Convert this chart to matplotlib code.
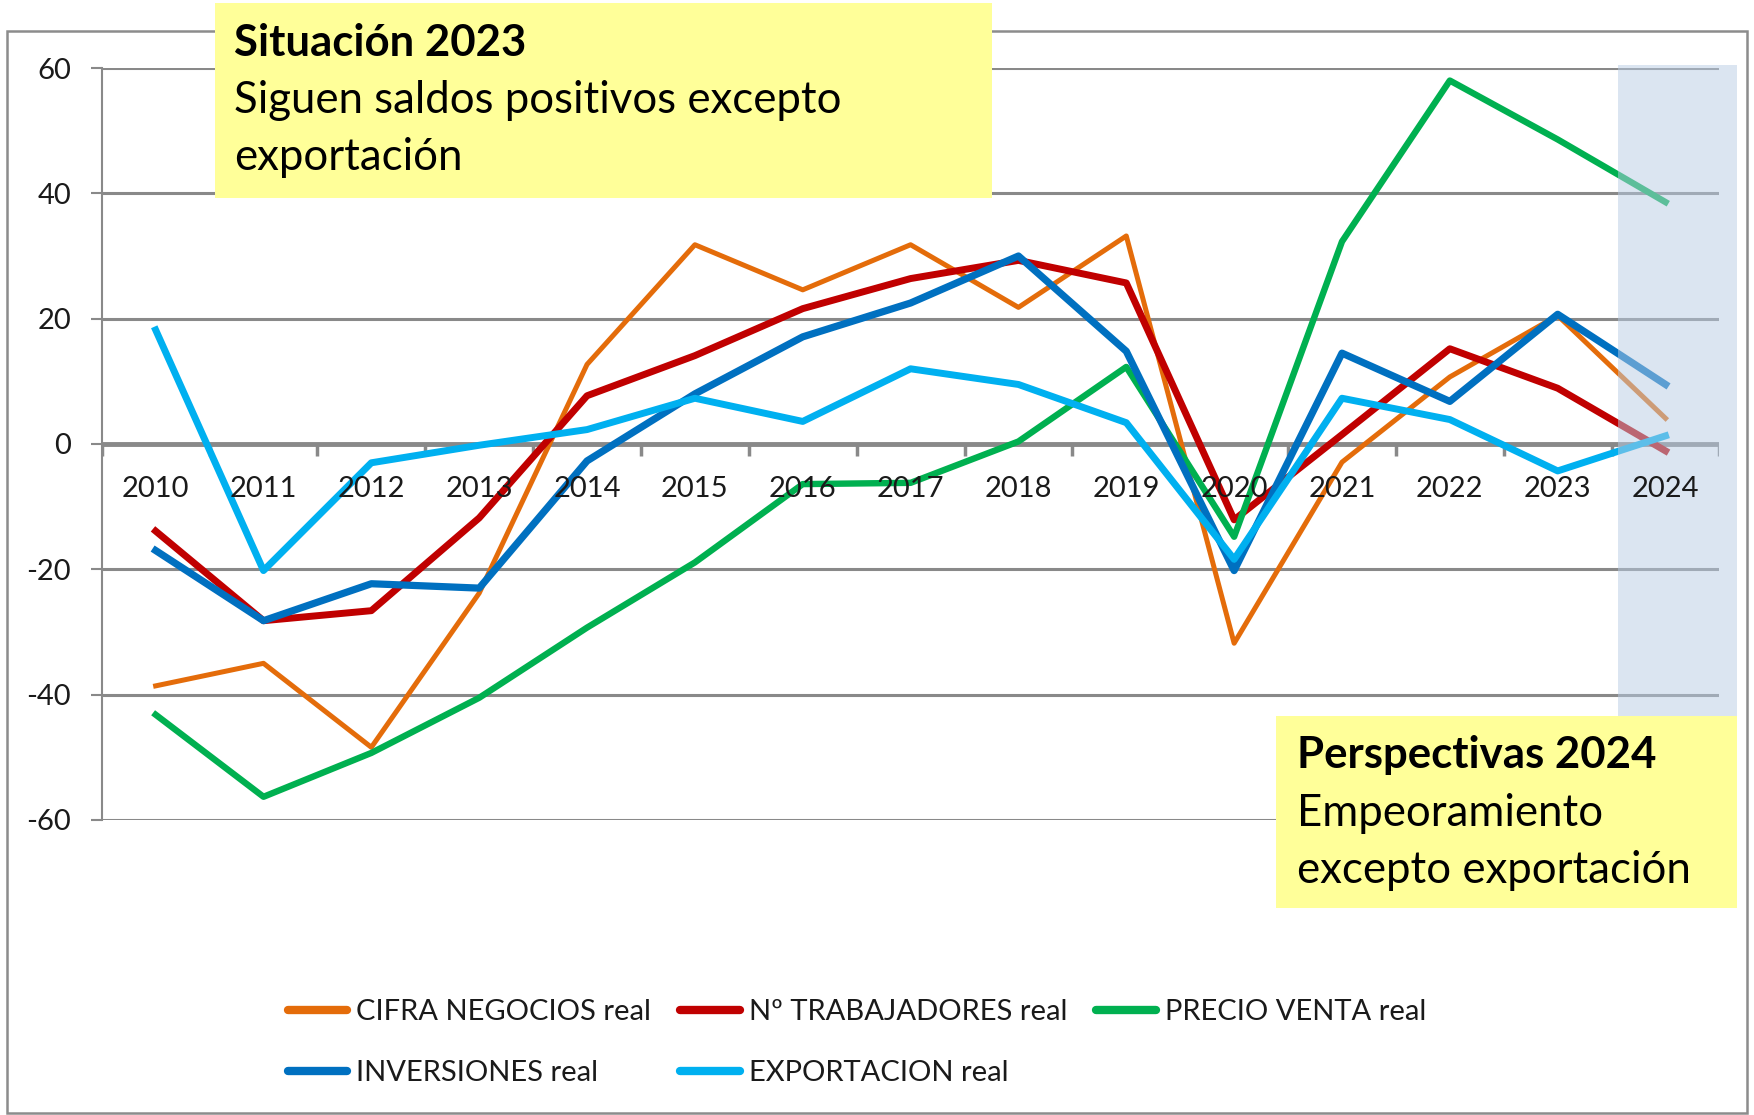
import numpy as np
import matplotlib
matplotlib.use("Agg")
import matplotlib.pyplot as plt
from matplotlib.patches import Rectangle

plt.rcParams['font.family'] = ['Lato', 'DejaVu Sans']

# datos (saldos, %)
years = ['2010', '2011', '2012', '2013', '2014', '2015', '2016', '2017',
         '2018', '2019', '2020', '2021', '2022', '2023', '2024']

cifra = [-38.6, -35.0, -48.4, -23.8, 12.7, 31.8, 24.6, 31.8, 21.8, 33.2,
         -31.8, -2.9, 10.7, 20.5, 4.1]
trabajadores = [-13.9, -28.2, -26.6, -11.8, 7.7, 14.1, 21.6, 26.4, 29.3, 25.7,
                -12.1, 1.5, 15.2, 8.9, -1.1]
precio = [-43.2, -56.3, -49.3, -40.5, -29.3, -18.9, -6.4, -6.2, 0.4, 12.3,
          -14.8, 32.3, 58.0, 48.6, 38.6]
inversiones = [-17.0, -28.2, -22.3, -23.0, -2.7, 8.0, 17.1, 22.5, 30.0, 14.8,
               -20.2, 14.5, 6.8, 20.7, 9.5]
exportacion = [18.2, -20.2, -3.0, -0.2, 2.3, 7.3, 3.6, 12.0, 9.5, 3.4,
               -18.4, 7.3, 3.9, -4.3, 1.3]

labels = ['CIFRA NEGOCIOS real', 'Nº TRABAJADORES real', 'PRECIO VENTA real',
          'INVERSIONES real', 'EXPORTACION real']
colors = ['#E46C0A', '#C00000', '#00B050', '#0070C0', '#00B0F0']

x = np.arange(len(years))
grid_c = '#898989'
txt_c = '#1a1a1a'

fig = plt.figure(figsize=(17.54, 11.15), dpi=100)
ax = fig.add_axes([0.058, 0.2646, 0.9223, 0.6744])

ax.set_ylim(-60, 60)
ax.set_xlim(-0.5, len(years) - 0.5)
ax.set_yticks([-60, -40, -20, 0, 20, 40, 60])
ax.set_yticklabels(['-60', '-40', '-20', '0', '20', '40', '60'])
ax.yaxis.grid(True, color=grid_c, lw=2.2, zorder=0)
ax.set_axisbelow(True)
ax.axhline(0, color=grid_c, lw=3.5, zorder=1)

for s in ['top', 'right', 'bottom']:
    ax.spines[s].set_visible(False)
ax.spines['left'].set_color(grid_c)
ax.spines['left'].set_linewidth(1.5)

ax.set_xticks([])
ax.tick_params(axis='y', length=8, width=1.5, color=grid_c, pad=14,
               labelsize=21, labelcolor=txt_c)

# marcas del eje de categorías y etiquetas junto a la línea de cero
for b in np.arange(-0.5, len(years), 1.0):
    ax.plot([b, b], [0, -1.9], color=grid_c, lw=2.5, zorder=1,
            solid_capstyle='butt')
for i, yr in enumerate(years):
    ax.text(i, -7.2, yr, ha='center', va='center', fontsize=21, color=txt_c,
            zorder=6)

widths = [3.6, 5.0, 4.6, 5.2, 5.0]
series = [cifra, trabajadores, precio, inversiones, exportacion]
handles = []
for vals, lab, c, w in zip(series, labels, colors, widths):
    h, = ax.plot(x, vals, color=c, lw=w, label=lab, zorder=3)
    handles.append(h)

# zona sombreada de 2024
ax.add_patch(Rectangle((0.9222, 0.30), 0.0681, 0.6418, transform=fig.transFigure,
                       facecolor='#B8CCE4', alpha=0.5, edgecolor='none',
                       zorder=4, clip_on=False))

# borde exterior
fig.patches.append(Rectangle((0.004, 0.002), 0.992, 0.970, transform=fig.transFigure,
                             facecolor='none', edgecolor='#8C8C8C', lw=1.8, zorder=6))

# cuadros de texto
fig.patches.append(Rectangle((0.1226, 0.8224), 0.443, 0.1749, transform=fig.transFigure,
                             facecolor='#FFFF99', edgecolor='none', zorder=7))
fig.text(0.1333, 0.961, 'Situación 2023', fontsize=31.5, fontweight='bold',
         va='center', zorder=8)
fig.text(0.1333, 0.9097, 'Siguen saldos positivos excepto', fontsize=31.5,
         va='center', zorder=8)
fig.text(0.1333, 0.8586, 'exportación', fontsize=31.5, va='center', zorder=8)

fig.patches.append(Rectangle((0.7275, 0.1857), 0.2628, 0.1721, transform=fig.transFigure,
                             facecolor='#FFFF99', edgecolor='none', zorder=7))
fig.text(0.7392, 0.3229, 'Perspectivas 2024', fontsize=31.5, fontweight='bold',
         va='center', zorder=8)
fig.text(0.7392, 0.2707, 'Empeoramiento', fontsize=31.5, va='center', zorder=8)
fig.text(0.7392, 0.2195, 'excepto exportación', fontsize=31.5, va='center', zorder=8)

order = [0, 3, 1, 4, 2]
leg = fig.legend([handles[i] for i in order], [labels[i] for i in order],
                 ncol=3, loc='upper left', bbox_to_anchor=(0.149, 0.1275),
                 frameon=False, fontsize=21, handlelength=2.05, handletextpad=0.3,
                 columnspacing=1.0, labelspacing=1.2, labelcolor=txt_c)
for lh in leg.get_lines():
    lh.set_linewidth(6)
    lh.set_solid_capstyle('round')

fig.savefig('out.png', dpi=100)
